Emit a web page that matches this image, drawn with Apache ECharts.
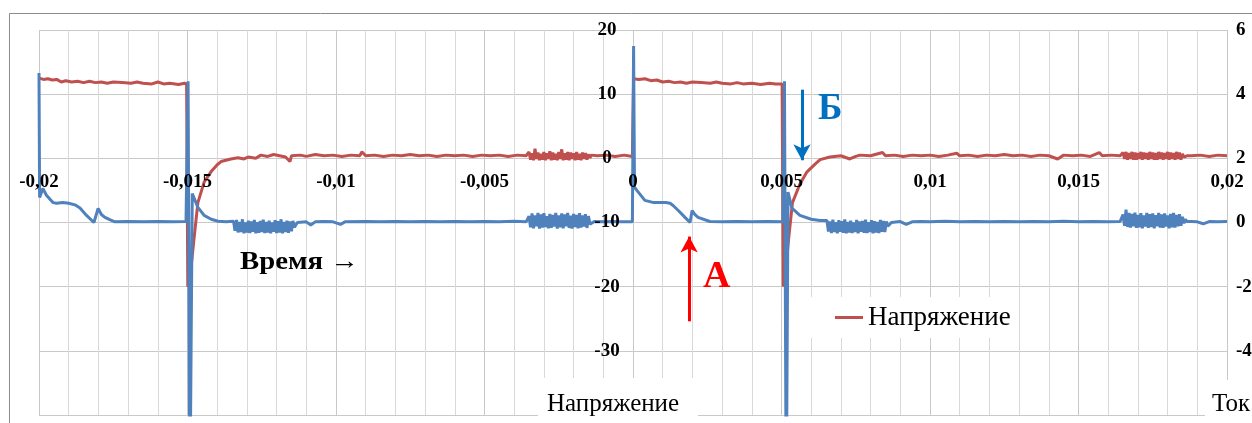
<!DOCTYPE html>
<html>
<head>
<meta charset="utf-8">
<script src="https://cdn.jsdelivr.net/npm/echarts@6/dist/echarts.min.js"></script>
<style>
  html, body { margin: 0; padding: 0; background: #fff; }
  #grafico { width: 1252px; height: 423px; }
</style>
</head>
<body>
<div id="grafico"></div>
<script>
// ось времени, с
var xMin = -0.02, xMax = 0.02, xStep = 0.005;
// левая ось (напряжение) и правая ось (ток)
var uMin = -40, uMax = 20, uStep = 10;
var iMin = -6, iMax = 6, iStep = 2;

// Напряжение: [время, В]
var voltageLeft = [
  [-0.02, 12.5], [-0.01985, 12.3], [-0.0197, 12.4], [-0.01955, 12.2], [-0.0194, 12.3], [-0.01925, 11.9],
  [-0.0191, 12.1], [-0.0189, 11.9], [-0.0187, 12.0], [-0.0185, 11.8], [-0.0183, 12.0], [-0.0181, 11.8],
  [-0.0179, 11.9], [-0.0177, 11.7], [-0.0175, 11.9], [-0.0172, 11.8], [-0.0169, 11.7], [-0.0167, 11.9],
  [-0.0165, 11.7], [-0.0162, 11.6], [-0.016, 11.9], [-0.0158, 11.6], [-0.0156, 11.7], [-0.0153, 11.5],
  [-0.0151, 11.7], [-0.01503, 11.6],
  [-0.01499, -20], [-0.01488, -17], [-0.01478, -12.5], [-0.01465, -6.9], [-0.01444, -3.7], [-0.01421, -2.1],
  [-0.014, -1.0], [-0.01387, -0.5], [-0.01354, -0.1], [-0.0133, 0.1], [-0.0131, -0.1], [-0.01296, 0.2],
  [-0.0127, 0.0], [-0.01253, 0.5], [-0.0123, 0.3], [-0.0121, 0.6], [-0.0119, 0.4], [-0.0117, 0.2],
  [-0.01155, -0.5], [-0.0115, 0.4], [-0.0112, 0.5], [-0.011, 0.3], [-0.0107, 0.6], [-0.0104, 0.4],
  [-0.0101, 0.5], [-0.0098, 0.3], [-0.0095, 0.5], [-0.0092, 0.4], [-0.00913, 1.0], [-0.009, 0.4],
  [-0.0087, 0.5], [-0.0084, 0.3], [-0.0081, 0.5], [-0.0078, 0.4], [-0.0075, 0.6], [-0.0072, 0.4],
  [-0.0069, 0.5], [-0.0066, 0.3], [-0.0063, 0.5], [-0.006, 0.4], [-0.0057, 0.5], [-0.0054, 0.3],
  [-0.0051, 0.5], [-0.0048, 0.4], [-0.0045, 0.5], [-0.0042, 0.3], [-0.0039, 0.5], [-0.0036, 0.4]
];
var voltageNoiseLeft = { start: -0.0035, step: 0.00005, values: [
  1.0, -0.2, 0.8, -0.3, 1.5, -0.1, 0.9, -0.3, 0.7, -0.2, 1.0, -0.3, 0.8, -0.1, 1.1, -0.3, 0.9, -0.2, 0.7, -0.3, 1.0, -0.1,
  1.4, -0.3, 0.8, -0.2, 1.0, -0.3, 0.9, -0.1, 0.8, -0.3, 1.0, -0.2, 0.7, -0.3, 0.9, -0.1, 0.8, -0.2, 0.6, 0.1, 0.5, 0.3
] };
var voltageMid = [
  [-0.0012, 0.4], [-0.0009, 0.5], [-0.0006, 0.3], [-0.0003, 0.5], [-0.00002, 0.3],
  [0.00002, 12.4], [0.0002, 12.3], [0.0004, 12.4], [0.0006, 12.1], [0.0008, 12.2], [0.001, 11.9],
  [0.0012, 12.0], [0.0014, 11.8], [0.0016, 11.9], [0.0018, 11.7], [0.002, 11.9], [0.0023, 11.8],
  [0.0026, 11.7], [0.0028, 11.9], [0.003, 11.7], [0.0033, 11.6], [0.0035, 11.8], [0.0037, 11.6],
  [0.004, 11.7], [0.0043, 11.5], [0.0046, 11.7], [0.0048, 11.6], [0.00502, 11.6],
  [0.00506, -20], [0.00515, -17], [0.00524, -12.5], [0.00537, -6.9], [0.00562, -4.0], [0.00586, -2.1],
  [0.00613, -0.9], [0.0063, -0.2], [0.00663, 0.2], [0.007, 0.4], [0.0073, -0.1], [0.0075, 0.3],
  [0.00764, 0.5], [0.008, 0.4], [0.0084, 0.9], [0.0085, 0.4], [0.0088, 0.5], [0.0091, 0.3], [0.0094, 0.5],
  [0.0097, 0.4], [0.01, 0.5], [0.0103, 0.3], [0.0106, 0.5], [0.0109, 0.8], [0.011, 0.4], [0.0113, 0.5],
  [0.0116, 0.3], [0.0119, 0.5], [0.0122, 0.4], [0.0125, 0.6], [0.0128, 0.4], [0.0131, 0.5], [0.0134, 0.3],
  [0.0137, 0.5], [0.014, 0.4], [0.0143, -0.1], [0.0145, 0.5], [0.0148, 0.4], [0.0151, 0.5], [0.0154, 0.3],
  [0.0157, 0.9], [0.0158, 0.4], [0.0161, 0.5], [0.0164, 0.4]
];
var voltageNoiseRight = { start: 0.0165, step: 0.00005, values: [
  0.9, -0.1, 1.0, -0.2, 0.8, -0.1, 1.0, -0.2, 0.9, -0.2, 0.8, -0.1, 1.0, -0.2, 0.9, -0.1, 0.8, -0.2, 1.0, -0.1, 0.9, -0.2,
  0.8, -0.2, 1.0, -0.1, 0.9, -0.2, 0.8, -0.1, 1.0, -0.2, 0.9, -0.1, 0.8, -0.2, 1.0, -0.1, 0.9, -0.2, 0.7, 0.2, 0.5, 0.4
] };
var voltageRight = [
  [0.0188, 0.4], [0.0191, 0.5], [0.0194, 0.3], [0.0197, 0.5], [0.02, 0.4]
];

// Ток: [время, А]
var currentLeft = [
  [-0.02, 4.66], [-0.01998, 0.78], [-0.01987, 1.06], [-0.01975, 0.85], [-0.01953, 0.62], [-0.0194, 0.6],
  [-0.0192, 0.62], [-0.019, 0.6], [-0.01879, 0.55], [-0.01862, 0.45], [-0.0184, 0.22], [-0.01815, 0.0],
  [-0.01801, 0.44], [-0.0179, 0.25], [-0.01778, 0.16], [-0.0176, 0.08], [-0.01744, 0.02], [-0.017, 0.03],
  [-0.0165, 0.02], [-0.016, 0.03], [-0.0155, 0.02], [-0.01505, 0.03],
  [-0.01498, 4.4], [-0.01492, -9], [-0.01484, 0.9], [-0.01465, 0.47], [-0.01444, 0.22], [-0.0142, 0.1],
  [-0.01397, 0.04], [-0.0137, 0.02]
];
var currentNoise1 = { start: -0.01345, step: 0.00005, values: [
  0.04, -0.26, 0.08, -0.31, 0.02, -0.3, 0.1, -0.34, 0.0, -0.31, 0.06, -0.33, 0.03, -0.29, 0.08, -0.34, 0.01, -0.32, 0.05, -0.3, 0.09,
  -0.33, 0.02, -0.31, 0.06, -0.34, 0.0, -0.29, 0.07, -0.33, 0.04, -0.31, 0.1, -0.34, 0.02, -0.3, 0.06, -0.32, 0.03, -0.27, 0.05, -0.15
] };
var currentMid1 = [
  [-0.0113, 0.0], [-0.011, 0.02], [-0.01085, -0.08], [-0.0107, 0.02], [-0.0104, 0.03], [-0.0101, 0.02],
  [-0.00985, -0.06], [-0.0097, 0.02], [-0.009, 0.03], [-0.0085, 0.02], [-0.008, 0.03], [-0.0075, 0.02],
  [-0.007, 0.03], [-0.0065, 0.02], [-0.006, 0.03], [-0.0055, 0.02], [-0.005, 0.03], [-0.0045, 0.02],
  [-0.004, 0.04], [-0.0036, 0.02]
];
var currentNoise2 = { start: -0.0035, step: 0.00005, values: [
  0.2, -0.15, 0.28, -0.18, 0.22, -0.12, 0.3, -0.19, 0.25, -0.16, 0.29, -0.14, 0.2, -0.18, 0.27, -0.17, 0.24, -0.13, 0.3, -0.19, 0.22,
  -0.15, 0.28, -0.18, 0.25, -0.12, 0.3, -0.17, 0.21, -0.19, 0.27, -0.14, 0.24, -0.18, 0.29, -0.16, 0.22, -0.13, 0.26, -0.17, 0.2, -0.05
] };
var currentMid2 = [
  [-0.0013, 0.03], [-0.001, 0.02], [-0.0007, 0.03], [-0.0004, 0.02], [-0.00002, 0.02],
  [0.00002, 5.5], [0.00005, 1.1], [0.00013, 1.0], [0.0004, 0.69], [0.0007, 0.62], [0.0011, 0.62],
  [0.00125, 0.6], [0.00135, 0.53], [0.00155, 0.35], [0.00175, 0.16], [0.00192, 0.0], [0.00199, 0.37],
  [0.00208, 0.25], [0.00219, 0.16], [0.00259, 0.03], [0.003, 0.02], [0.0035, 0.03], [0.004, 0.02],
  [0.0045, 0.03], [0.00505, 0.02],
  [0.0051, 4.4], [0.00516, -9], [0.00522, 0.95], [0.00535, 0.45], [0.00562, 0.22], [0.006, 0.1], [0.0063, 0.06]
];
var currentNoise3 = { start: 0.00653, step: 0.00005, values: [
  0.06, -0.28, 0.03, -0.33, 0.09, -0.3, 0.01, -0.34, 0.07, -0.29, 0.04, -0.32, 0.1, -0.34, 0.02, -0.31, 0.06, -0.33, 0.0, -0.3, 0.08,
  -0.34, 0.03, -0.29, 0.05, -0.32, 0.09, -0.33, 0.01, -0.3, 0.07, -0.34, 0.04, -0.31, 0.02, -0.33, 0.08, -0.29, 0.05, -0.3, 0.03, -0.12
] };
var currentMid3 = [
  [0.0087, 0.0], [0.009, 0.03], [0.0092, -0.06], [0.0094, 0.02], [0.0097, 0.03], [0.01, 0.02],
  [0.0105, 0.04], [0.011, 0.02], [0.0115, 0.03], [0.012, 0.02], [0.0125, 0.03], [0.013, 0.02],
  [0.0135, 0.03], [0.014, 0.02], [0.0145, 0.04], [0.015, 0.02], [0.0155, 0.03], [0.016, 0.02], [0.0164, 0.03]
];
var currentNoise4 = { start: 0.0165, step: 0.00005, values: [
  0.25, -0.1, 0.4, -0.14, 0.3, -0.16, 0.27, -0.12, 0.31, -0.17, 0.24, -0.15, 0.29, -0.18, 0.22, -0.13, 0.3, -0.17, 0.26, -0.14, 0.28,
  -0.18, 0.23, -0.12, 0.3, -0.16, 0.25, -0.17, 0.28, -0.13, 0.22, -0.18, 0.27, -0.15, 0.3, -0.16, 0.24, -0.12, 0.26, -0.1, 0.18, -0.02, 0.1, 0.03
] };
var currentRight = [
  [0.0188, 0.03], [0.019, 0.02], [0.0192, -0.04], [0.0194, 0.03], [0.0197, 0.02], [0.02, 0.03]
];

// отсчёты шумового участка идут с шагом осциллографа
function samples(block) {
  return block.values.map(function (v, i) {
    return [block.start + i * block.step, v];
  });
}

var voltage = [].concat(voltageLeft, samples(voltageNoiseLeft), voltageMid, samples(voltageNoiseRight), voltageRight);
var current = [].concat(currentLeft, samples(currentNoise1), currentMid1, samples(currentNoise2), currentMid2,
  samples(currentNoise3), currentMid3, samples(currentNoise4), currentRight);

var serif = "'Liberation Serif', 'Times New Roman', serif";

// сетка графика и сдвиг подписей осей к нулю
var gridBox = { left: 39, right: 25, top: 30, bottom: 8 };
var plotW = 1252 - gridBox.left - gridBox.right;
var plotH = 423 - gridBox.top - gridBox.bottom;
var yAxisShift = -plotW * (0 - xMin) / (xMax - xMin);
var xAxisShift = -plotH * (0 - uMin) / (uMax - uMin);

var chartDom = document.getElementById('grafico');
var myChart = echarts.init(chartDom, null, { renderer: 'canvas' });
var option;
option = {
  animation: false,
  backgroundColor: '#fff',
  grid: { left: gridBox.left, right: gridBox.right, top: gridBox.top, bottom: gridBox.bottom, outerBoundsMode: 'none' },
  legend: {
    data: ['Напряжение'],
    left: 808,
    top: 297,
    padding: [7, 8, 7, 27],
    backgroundColor: '#fff',
    icon: 'rect',
    itemWidth: 28,
    itemHeight: 3,
    selectedMode: false,
    textStyle: { fontFamily: serif, fontSize: 27, color: '#000' },
    z: 20
  },
  xAxis: [
    {
      type: 'value', min: xMin, max: xMax, interval: xStep,
      axisLine: { show: false, onZero: false }, axisTick: { show: false }, axisLabel: { show: false },
      splitLine: { show: true, lineStyle: { color: '#c9c9c9', width: 1 } },
      minorTick: { show: false, splitNumber: 5 },
      minorSplitLine: { show: true, lineStyle: { color: '#d9d9d9', width: 1 } }
    },
    {
      type: 'value', min: xMin, max: xMax, interval: xStep, position: 'bottom', offset: xAxisShift, z: 10,
      axisLine: { show: false, onZero: false },
      axisTick: { show: false }, splitLine: { show: false },
      axisLabel: {
        margin: 14,
        fontFamily: serif, fontWeight: 'bold', fontSize: 19, color: '#000',
        showMinLabel: true, showMaxLabel: true,
        formatter: function (v) { return String(+v.toFixed(4)).replace('.', ','); }
      }
    }
  ],
  yAxis: [
    {
      type: 'value', min: uMin, max: uMax, interval: uStep, position: 'left',
      axisLine: { show: false, onZero: false }, axisTick: { show: false }, axisLabel: { show: false },
      splitLine: { show: true, lineStyle: { color: '#c9c9c9', width: 1 } }
    },
    {
      type: 'value', min: iMin, max: iMax, interval: iStep, position: 'right', z: 10,
      axisLine: { show: false, onZero: false }, axisTick: { show: false }, splitLine: { show: false },
      axisLabel: {
        margin: 9, align: 'left', showMinLabel: false,
        fontFamily: serif, fontWeight: 'bold', fontSize: 19, color: '#000'
      }
    },
    {
      type: 'value', min: uMin, max: uMax, interval: uStep, position: 'left', offset: yAxisShift, z: 10,
      axisLine: { show: false, onZero: false },
      axisTick: { show: false }, splitLine: { show: false },
      axisLabel: {
        margin: 26, align: 'center', showMinLabel: false,
        fontFamily: serif, fontWeight: 'bold', fontSize: 19, color: '#000'
      }
    }
  ],
  series: [
    {
      name: 'Напряжение',
      type: 'line',
      xAxisIndex: 0,
      yAxisIndex: 0,
      data: voltage,
      showSymbol: false,
      color: '#c0504d',
      lineStyle: { width: 3, color: '#c0504d' },
      markLine: {
        silent: true,
        symbol: ['none', 'arrow'],
        symbolSize: [13, 16],
        label: { show: false },
        data: [
          [{ coord: [0.00189, -25.4], lineStyle: { color: '#ff0000', width: 3, type: 'solid' } }, { coord: [0.00189, -12.2] }],
          [{ coord: [0.00569, 10.7], lineStyle: { color: '#0070c0', width: 3, type: 'solid' } }, { coord: [0.00569, -0.3] }]
        ]
      }
    },
    {
      name: 'Ток',
      type: 'line',
      xAxisIndex: 0,
      yAxisIndex: 1,
      data: current,
      showSymbol: false,
      color: '#4f81bd',
      lineStyle: { width: 3, color: '#4f81bd' }
    }
  ],
  graphic: [
    { type: 'rect', z: 1, shape: { x: 9.5, y: 13.5, width: 1300, height: 500 }, style: { fill: 'none', stroke: '#8c8c8c', lineWidth: 1 } },
    { type: 'text', z: 100, x: 240, y: 250, scaleX: 1.15, style: { text: 'Время →', font: "bold 25px " + serif, fill: '#000', verticalAlign: 'top' } },
    { type: 'text', z: 100, x: 703, y: 258, style: { text: 'А', font: "bold 38px " + serif, fill: '#ff0000', verticalAlign: 'top' } },
    { type: 'text', z: 100, x: 818, y: 91, style: { text: 'Б', font: "bold 37px " + serif, fill: '#0070c0', verticalAlign: 'top' } },
    { type: 'rect', z: 90, shape: { x: 538, y: 378, width: 160, height: 45 }, style: { fill: '#fff' } },
    { type: 'text', z: 100, x: 547, y: 392, style: { text: 'Напряжение', font: "25px " + serif, fill: '#000', verticalAlign: 'top' } },
    { type: 'rect', z: 90, shape: { x: 1205, y: 380, width: 47, height: 43 }, style: { fill: '#fff' } },
    { type: 'text', z: 100, x: 1212, y: 392, style: { text: 'Ток', font: "25px " + serif, fill: '#000', verticalAlign: 'top' } }
  ]
};

option && myChart.setOption(option);
</script>
</body>
</html>
